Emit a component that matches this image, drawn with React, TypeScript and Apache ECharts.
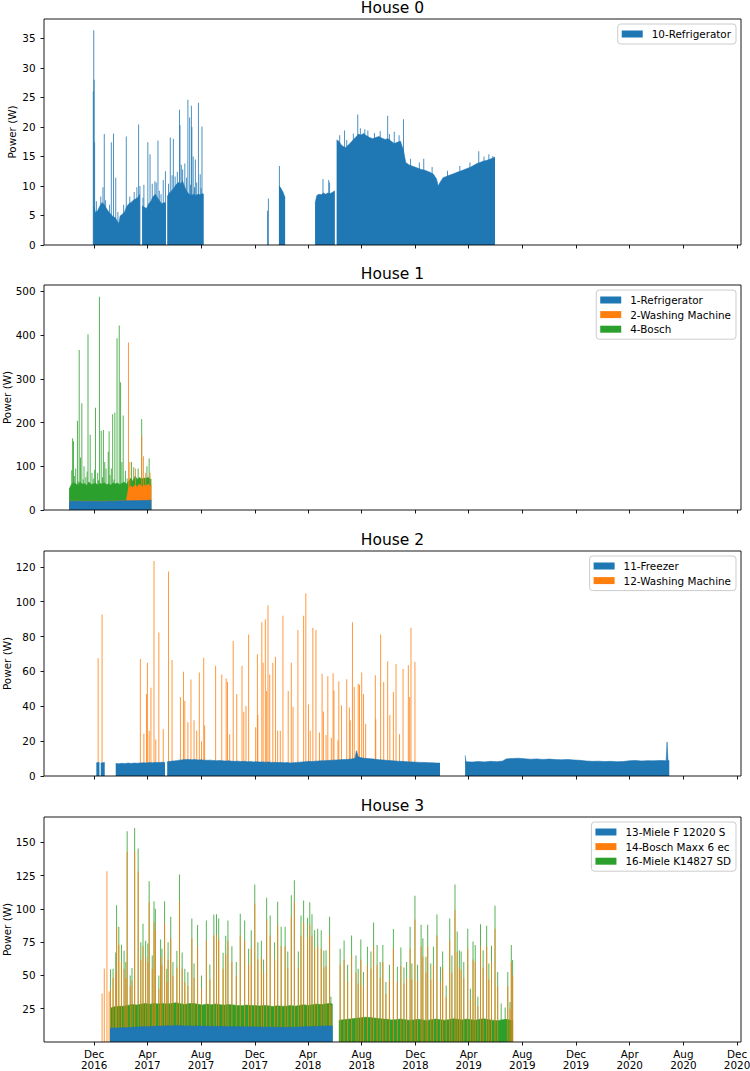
import React, { useEffect, useRef } from "react";
import * as echarts from "echarts";

type Pt = [string, number | null];

// ---------- shared x axis ----------
const xRange = ["2016-08-09", "2020-12-10"];
const xTickDates = [
  "2016-12-01", "2017-04-01", "2017-08-01", "2017-12-01", "2018-04-01", "2018-08-01", "2018-12-01",
  "2019-04-01", "2019-08-01", "2019-12-01", "2020-04-01", "2020-08-01", "2020-12-01",
];
const xTickLabels = [
  "Dec\n2016", "Apr\n2017", "Aug\n2017", "Dec\n2017", "Apr\n2018", "Aug\n2018", "Dec\n2018",
  "Apr\n2019", "Aug\n2019", "Dec\n2019", "Apr\n2020", "Aug\n2020", "Dec\n2020",
];
const houseTitles = ["House 0", "House 1", "House 2", "House 3"];

// ---------- House 0 ----------
const h0YTicks = [0, 5, 10, 15, 20, 25, 30, 35];
const h0YMax = 38.3;
const h0FridgeBase: Pt[] = [
  ["2016-11-30", 6.5], ["2016-12-04", 5.5], ["2016-12-09", 5.8], ["2016-12-14", 6.6], ["2016-12-19", 7.2],
  ["2016-12-24", 6.8], ["2016-12-29", 6.2], ["2017-01-03", 5.6], ["2017-01-08", 5.2], ["2017-01-13", 4.8],
  ["2017-01-18", 4.6], ["2017-01-23", 4.0], ["2017-01-26", 3.6], ["2017-01-29", 4.9], ["2017-02-03", 5.2],
  ["2017-02-08", 5.6], ["2017-02-13", 6.5], ["2017-02-18", 7.0], ["2017-02-23", 7.2], ["2017-02-28", 7.6],
  ["2017-03-05", 7.8], ["2017-03-10", 8.0], ["2017-03-15", 8.6], ["2017-03-17", null],
  ["2017-03-20", 6.6], ["2017-03-25", 6.4], ["2017-03-30", 6.2], ["2017-04-04", 7.0], ["2017-04-09", 7.4],
  ["2017-04-14", 8.2], ["2017-04-19", 8.6], ["2017-04-24", 8.0], ["2017-04-29", 7.4], ["2017-05-04", 7.0],
  ["2017-05-09", 7.2], ["2017-05-13", 7.0], ["2017-05-14", null],
  ["2017-05-16", 8.2], ["2017-05-21", 8.8], ["2017-05-26", 9.2], ["2017-05-31", 9.6], ["2017-06-05", 10.2],
  ["2017-06-10", 10.6], ["2017-06-15", 10.4], ["2017-06-20", 10.8], ["2017-06-25", 9.8], ["2017-06-30", 9.0],
  ["2017-07-05", 8.6], ["2017-07-10", 8.4], ["2017-07-15", 8.6], ["2017-07-20", 8.4], ["2017-07-25", 8.6],
  ["2017-07-30", 8.5], ["2017-08-04", 8.7], ["2017-08-07", 8.6], ["2017-08-08", null],
  ["2018-01-25", 10.0], ["2018-01-28", 9.8], ["2018-01-31", 9.4], ["2018-02-03", 9.0], ["2018-02-06", 8.4],
  ["2018-02-08", 8.0], ["2018-02-09", null],
  ["2018-04-17", 7.0], ["2018-04-21", 8.4], ["2018-04-26", 8.6], ["2018-05-01", 8.5], ["2018-05-06", 8.8],
  ["2018-05-11", 8.6], ["2018-05-16", 8.8], ["2018-05-21", 8.7], ["2018-05-26", 8.9], ["2018-06-01", 9.2],
  ["2018-06-03", null],
  ["2018-06-05", 17.8], ["2018-06-10", 17.6], ["2018-06-15", 17.0], ["2018-06-20", 16.7], ["2018-06-25", 16.5],
  ["2018-06-30", 16.8], ["2018-07-05", 17.2], ["2018-07-10", 17.6], ["2018-07-15", 18.0], ["2018-07-20", 18.4],
  ["2018-07-25", 18.8], ["2018-07-30", 18.6], ["2018-08-05", 18.9], ["2018-08-12", 18.5], ["2018-08-19", 18.2],
  ["2018-08-26", 18.0], ["2018-09-02", 18.2], ["2018-09-09", 18.4], ["2018-09-16", 18.1], ["2018-09-23", 17.9],
  ["2018-09-30", 18.0], ["2018-10-07", 17.6], ["2018-10-14", 17.2], ["2018-10-21", 17.4], ["2018-10-28", 17.6],
  ["2018-11-04", 16.0], ["2018-11-09", 14.0], ["2018-11-16", 13.6], ["2018-11-23", 13.4], ["2018-11-30", 13.2],
  ["2018-12-07", 13.0], ["2018-12-14", 12.8], ["2018-12-21", 12.7], ["2018-12-28", 12.5], ["2019-01-04", 12.3],
  ["2019-01-11", 12.0], ["2019-01-18", 11.2], ["2019-01-22", 10.0], ["2019-01-26", 10.6], ["2019-02-02", 11.4],
  ["2019-02-09", 11.6], ["2019-02-16", 11.8], ["2019-02-23", 12.0], ["2019-03-02", 12.2], ["2019-03-09", 12.4],
  ["2019-03-16", 12.6], ["2019-03-23", 12.8], ["2019-03-30", 13.0], ["2019-04-06", 13.2], ["2019-04-13", 13.5],
  ["2019-04-20", 13.8], ["2019-04-27", 14.0], ["2019-05-04", 14.2], ["2019-05-11", 14.3], ["2019-05-18", 14.5],
  ["2019-05-25", 14.7], ["2019-05-31", 14.9],
];
// peak heights on the axis
const h0FridgePeaks: [string, number][] = [
  ["2016-11-29", 26.0], ["2016-11-30", 36.4], ["2016-12-01", 28.0], ["2016-12-02", 17.4], ["2016-12-06", 7.4],
  ["2016-12-16", 8.2], ["2016-12-21", 9.8], ["2016-12-24", 18.8], ["2016-12-27", 7.6], ["2017-01-05", 6.8],
  ["2017-01-09", 17.4], ["2017-01-14", 18.9], ["2017-01-19", 11.4], ["2017-01-24", 5.6], ["2017-02-06", 6.8],
  ["2017-02-12", 18.4], ["2017-02-20", 8.2], ["2017-03-02", 9.0], ["2017-03-08", 9.8], ["2017-03-12", 20.4],
  ["2017-03-15", 10.0], ["2017-03-22", 8.0], ["2017-03-24", 10.2], ["2017-04-02", 17.4], ["2017-04-07", 15.4],
  ["2017-04-12", 10.4], ["2017-04-18", 10.8], ["2017-04-21", 10.6], ["2017-04-25", 17.7], ["2017-04-28", 9.2],
  ["2017-05-02", 8.6], ["2017-05-07", 11.0], ["2017-05-12", 12.5], ["2017-05-19", 10.4], ["2017-05-23", 18.2],
  ["2017-05-27", 11.8], ["2017-05-30", 18.0], ["2017-06-03", 11.6], ["2017-06-08", 12.4], ["2017-06-13", 22.9],
  ["2017-06-14", 20.3], ["2017-06-17", 13.6], ["2017-06-20", 12.8], ["2017-06-25", 13.8], ["2017-06-29", 11.4],
  ["2017-07-02", 24.6], ["2017-07-06", 21.6], ["2017-07-08", 10.2], ["2017-07-10", 23.6], ["2017-07-11", 20.0],
  ["2017-07-14", 15.0], ["2017-07-17", 9.8], ["2017-07-19", 14.5], ["2017-07-22", 10.6], ["2017-07-26", 24.1],
  ["2017-07-30", 12.0], ["2017-08-01", 9.6], ["2017-08-03", 20.1], ["2017-12-30", 5.8], ["2018-01-01", 7.9],
  ["2018-01-26", 13.4], ["2018-05-05", 11.2], ["2018-05-18", 11.0], ["2018-05-20", 10.6], ["2018-06-12", 18.6],
  ["2018-06-23", 19.4], ["2018-06-28", 17.8], ["2018-07-13", 18.9], ["2018-07-23", 22.1], ["2018-07-29", 19.8],
  ["2018-08-08", 19.6], ["2018-08-15", 19.4], ["2018-08-30", 19.0], ["2018-09-12", 19.3], ["2018-09-29", 21.9],
  ["2018-10-03", 18.8], ["2018-10-14", 19.2], ["2018-10-25", 18.6], ["2018-11-04", 21.3], ["2018-11-20", 14.6],
  ["2018-12-10", 14.0], ["2018-12-20", 14.6], ["2019-01-08", 13.2], ["2019-02-12", 12.6], ["2019-03-12", 13.4],
  ["2019-04-04", 14.0], ["2019-04-24", 15.9], ["2019-05-06", 15.0], ["2019-05-17", 15.4], ["2019-05-26", 15.1],
];

// ---------- House 1 ----------
const h1YTicks = [0, 100, 200, 300, 400, 500];
const h1YMax = 514.6;
const h1Dates = [
  "2016-10-05", "2016-10-10", "2016-10-15", "2016-10-20", "2016-10-25", "2016-10-30", "2016-11-04", "2016-11-09",
  "2016-11-14", "2016-11-19", "2016-11-24", "2016-11-29", "2016-12-04", "2016-12-09", "2016-12-14", "2016-12-19",
  "2016-12-24", "2016-12-29", "2017-01-03", "2017-01-08", "2017-01-13", "2017-01-18", "2017-01-23", "2017-01-28",
  "2017-02-02", "2017-02-07", "2017-02-12", "2017-02-17", "2017-02-22", "2017-02-27", "2017-03-04", "2017-03-09",
  "2017-03-14", "2017-03-19", "2017-03-24", "2017-03-29", "2017-04-03", "2017-04-08", "2017-04-10",
];
const h1FridgeBase = [
  19.5, 20.0, 20.5, 20.2, 19.8, 20.4, 20.0, 19.6, 20.1, 19.8, 20.3, 19.5, 19.9, 20.2, 19.7, 20.0, 19.6, 19.8, 20.3,
  20.6, 20.1, 20.4, 20.8, 21.0, 20.7, 21.2, 20.9, 21.4, 21.0, 21.3, 21.6, 21.2, 21.5, 21.8, 22.0, 21.7, 22.2, 22.5, 22.4,
];
const h1WasherBase = [
  0, 0, 0, 0, 0, 0, 0, 0, 0, 0, 0, 0, 0, 0, 0, 0, 0, 0, 0, 0, 0, 0, 0, 0, 0, 0, 0,
  28, 34, 30, 36, 32, 38, 30, 35, 33, 37, 31, 34,
];
const h1BoschBase = [
  28, 38, 42, 40, 37, 43, 39, 41, 36, 44, 38, 40, 42, 37, 41, 39, 43, 38, 40, 36, 42, 39, 41, 37, 40, 43, 38,
  16, 18, 14, 20, 17, 15, 19, 16, 18, 15, 17, 14,
];
const h1BoschPeaks: [string, number][] = [
  ["2016-10-11", 91], ["2016-10-13", 164], ["2016-10-15", 157], ["2016-10-17", 78], ["2016-10-20", 95],
  ["2016-10-24", 204], ["2016-10-26", 65], ["2016-10-28", 366], ["2016-10-31", 120], ["2016-11-03", 244],
  ["2016-11-06", 70], ["2016-11-08", 100], ["2016-11-12", 75], ["2016-11-15", 88], ["2016-11-17", 402],
  ["2016-11-22", 172], ["2016-11-26", 85], ["2016-11-29", 72], ["2016-12-02", 92], ["2016-12-04", 234],
  ["2016-12-09", 85], ["2016-12-11", 68], ["2016-12-13", 488], ["2016-12-17", 181], ["2016-12-20", 75],
  ["2016-12-22", 183], ["2016-12-25", 110], ["2016-12-28", 95], ["2017-01-02", 133], ["2017-01-04", 180],
  ["2017-01-06", 80], ["2017-01-09", 95], ["2017-01-12", 219], ["2017-01-15", 70], ["2017-01-17", 223],
  ["2017-01-22", 393], ["2017-01-27", 422], ["2017-01-30", 292], ["2017-02-02", 110], ["2017-02-05", 216],
  ["2017-02-10", 90], ["2017-02-14", 72], ["2017-02-24", 110], ["2017-03-01", 98], ["2017-03-11", 95],
  ["2017-03-19", 208], ["2017-03-31", 100], ["2017-04-05", 118],
];
const h1WasherPeaks: [string, number][] = [
  ["2017-02-17", 383], ["2017-02-20", 110], ["2017-03-05", 95], ["2017-03-19", 170], ["2017-03-23", 123],
  ["2017-03-28", 85], ["2017-04-07", 86],
];

// ---------- House 2 ----------
const h2YTicks = [0, 20, 40, 60, 80, 100, 120];
const h2YMax = 129.1;
const h2FreezerBase: Pt[] = [
  ["2016-12-06", 7.6], ["2016-12-13", 7.8], ["2016-12-14", null], ["2016-12-16", 7.4], ["2016-12-25", 7.8],
  ["2016-12-26", null],
  ["2017-01-19", 7.2], ["2017-01-26", 7.0], ["2017-02-02", 7.3], ["2017-02-09", 7.1], ["2017-02-16", 7.4],
  ["2017-02-23", 7.2], ["2017-03-02", 7.4], ["2017-03-09", 7.3], ["2017-03-16", 7.5], ["2017-03-23", 7.6],
  ["2017-03-30", 7.5], ["2017-04-06", 7.7], ["2017-04-13", 7.6], ["2017-04-20", 7.8], ["2017-04-27", 7.7],
  ["2017-05-04", 7.9], ["2017-05-11", 7.8], ["2017-05-14", null],
  ["2017-05-16", 8.2], ["2017-05-23", 8.4], ["2017-05-30", 8.6], ["2017-06-06", 8.8], ["2017-06-13", 9.1],
  ["2017-06-20", 9.3], ["2017-06-27", 9.4], ["2017-07-04", 9.5], ["2017-07-11", 9.3], ["2017-07-18", 9.4],
  ["2017-07-25", 9.2], ["2017-08-01", 9.3], ["2017-08-08", 9.1], ["2017-08-15", 9.0], ["2017-08-22", 9.1],
  ["2017-08-29", 8.9], ["2017-09-05", 8.8], ["2017-09-12", 8.9], ["2017-09-19", 8.7], ["2017-09-26", 8.6],
  ["2017-10-03", 8.7], ["2017-10-10", 8.5], ["2017-10-17", 8.4], ["2017-10-24", 8.5], ["2017-10-31", 8.3],
  ["2017-11-07", 8.4], ["2017-11-14", 8.2], ["2017-11-21", 8.3], ["2017-11-28", 8.1], ["2017-12-05", 8.2],
  ["2017-12-12", 8.0], ["2017-12-19", 8.1], ["2017-12-26", 7.9], ["2018-01-02", 8.0], ["2018-01-09", 7.8],
  ["2018-01-16", 7.9], ["2018-01-23", 7.7], ["2018-01-30", 7.8], ["2018-02-06", 7.6], ["2018-02-13", 7.7],
  ["2018-02-20", 7.5], ["2018-02-27", 7.6], ["2018-03-06", 7.8], ["2018-03-13", 7.9], ["2018-03-20", 8.1],
  ["2018-03-27", 8.2], ["2018-04-03", 8.4], ["2018-04-10", 8.3], ["2018-04-17", 8.5], ["2018-04-24", 8.6],
  ["2018-05-01", 8.7], ["2018-05-08", 8.8], ["2018-05-15", 8.9], ["2018-05-22", 9.0], ["2018-05-29", 9.1],
  ["2018-06-05", 9.2], ["2018-06-12", 9.3], ["2018-06-19", 9.4], ["2018-06-26", 9.5], ["2018-07-03", 9.6],
  ["2018-07-10", 9.8], ["2018-07-17", 10.2], ["2018-07-20", 14.5], ["2018-07-24", 11.0], ["2018-07-31", 10.4],
  ["2018-08-07", 10.2], ["2018-08-14", 10.0], ["2018-08-21", 9.9], ["2018-08-28", 9.7], ["2018-09-04", 9.5],
  ["2018-09-11", 9.3], ["2018-09-18", 9.2], ["2018-09-25", 9.0], ["2018-10-02", 8.9], ["2018-10-09", 8.8],
  ["2018-10-16", 8.6], ["2018-10-23", 8.5], ["2018-10-30", 8.4], ["2018-11-06", 8.3], ["2018-11-13", 8.2],
  ["2018-11-20", 8.1], ["2018-11-27", 8.0], ["2018-12-04", 7.9], ["2018-12-11", 7.8], ["2018-12-18", 7.8],
  ["2018-12-25", 7.7], ["2019-01-01", 7.6], ["2019-01-08", 7.6], ["2019-01-15", 7.5], ["2019-01-22", 7.4],
  ["2019-01-26", 7.4], ["2019-01-27", null],
  ["2019-03-24", 11.8], ["2019-03-26", 8.2], ["2019-04-09", 8.0], ["2019-04-23", 8.3], ["2019-05-07", 8.1],
  ["2019-05-21", 8.4], ["2019-06-04", 8.2], ["2019-06-18", 8.6], ["2019-06-25", 9.8], ["2019-07-09", 10.0],
  ["2019-07-23", 10.2], ["2019-08-06", 9.9], ["2019-08-20", 9.6], ["2019-09-03", 9.8], ["2019-09-17", 9.5],
  ["2019-10-01", 9.7], ["2019-10-15", 9.4], ["2019-10-29", 9.3], ["2019-11-12", 9.5], ["2019-11-26", 9.2],
  ["2019-12-10", 9.0], ["2019-12-24", 8.6], ["2020-01-07", 8.4], ["2020-01-21", 8.5], ["2020-02-04", 8.3],
  ["2020-02-18", 8.4], ["2020-03-03", 8.2], ["2020-03-17", 8.3], ["2020-03-31", 8.7], ["2020-04-14", 8.9],
  ["2020-04-28", 8.6], ["2020-05-12", 8.8], ["2020-05-26", 8.7], ["2020-06-09", 8.9], ["2020-06-23", 8.8],
  ["2020-06-25", 19.5], ["2020-06-27", 9.0], ["2020-06-30", 8.8],
];
const h2WasherPeaks: [string, number][] = [
  ["2016-12-10", 67.5], ["2016-12-19", 92.7], ["2017-03-16", 67.2], ["2017-03-24", 24.3], ["2017-03-30", 47],
  ["2017-04-01", 65], ["2017-04-05", 26], ["2017-04-09", 50.6], ["2017-04-16", 123.4], ["2017-04-20", 21],
  ["2017-04-27", 82.4], ["2017-05-07", 27], ["2017-05-19", 117.3], ["2017-05-27", 66.5], ["2017-06-15", 45.4],
  ["2017-06-22", 59.8], ["2017-06-25", 43], ["2017-07-02", 30.8], ["2017-07-09", 55.4], ["2017-07-16", 32],
  ["2017-07-22", 26], ["2017-07-28", 59.4], ["2017-08-02", 20], ["2017-08-07", 67.8], ["2017-08-09", 29],
  ["2017-09-03", 63.2], ["2017-09-17", 58.3], ["2017-09-27", 56], ["2017-09-30", 54], ["2017-10-05", 24],
  ["2017-10-13", 77.4], ["2017-10-21", 47], ["2017-11-02", 63.2], ["2017-11-06", 36.8], ["2017-11-11", 40.2],
  ["2017-11-17", 81.2], ["2017-12-03", 28], ["2017-12-07", 69.8], ["2017-12-08", 35], ["2017-12-17", 88.2],
  ["2017-12-20", 65], ["2017-12-25", 90], ["2017-12-28", 48.7], ["2017-12-31", 98], ["2018-01-04", 58.3],
  ["2018-01-11", 65], ["2018-01-17", 68.4], ["2018-01-22", 26], ["2018-01-28", 26], ["2018-02-03", 92],
  ["2018-02-15", 48.7], ["2018-02-22", 65], ["2018-02-26", 39.7], ["2018-03-09", 83.7], ["2018-03-22", 92],
  ["2018-03-27", 104.8], ["2018-04-02", 41], ["2018-04-06", 26], ["2018-04-12", 85], ["2018-04-19", 83.7],
  ["2018-04-27", 25], ["2018-05-03", 58.7], ["2018-05-06", 37], ["2018-05-12", 23.5], ["2018-05-16", 57.2],
  ["2018-05-24", 22], ["2018-05-28", 59], ["2018-05-30", 49], ["2018-06-08", 20.5], ["2018-06-10", 54.4],
  ["2018-06-16", 40.6], ["2018-06-28", 55.5], ["2018-07-04", 39.3], ["2018-07-06", 32], ["2018-07-11", 88.2],
  ["2018-07-15", 51], ["2018-07-24", 53], ["2018-07-27", 52.4], ["2018-08-01", 59.4], ["2018-08-05", 47],
  ["2018-08-10", 30], ["2018-09-01", 57.8], ["2018-09-02", 32.6], ["2018-09-13", 81.2], ["2018-09-20", 54],
  ["2018-09-29", 65.9], ["2018-10-04", 35], ["2018-10-12", 48.2], ["2018-10-18", 64.2], ["2018-10-26", 24],
  ["2018-11-03", 61.4], ["2018-11-15", 63.6], ["2018-11-18", 45.4], ["2018-11-21", 85], ["2018-11-30", 65.5],
];

// ---------- House 3 ----------
const h3YTicks = [25, 50, 75, 100, 125, 150];
const h3YMax = 169;
const h3Dates = [
  "2017-01-06", "2017-01-16", "2017-01-26", "2017-02-05", "2017-02-15", "2017-02-25", "2017-03-07", "2017-03-17",
  "2017-03-27", "2017-04-06", "2017-04-16", "2017-04-26", "2017-05-06", "2017-05-16", "2017-05-26", "2017-06-05",
  "2017-06-15", "2017-06-25", "2017-07-05", "2017-07-15", "2017-07-25", "2017-08-04", "2017-08-14", "2017-08-24",
  "2017-09-03", "2017-09-13", "2017-09-23", "2017-10-03", "2017-10-13", "2017-10-23", "2017-11-02", "2017-11-12",
  "2017-11-22", "2017-12-02", "2017-12-12", "2017-12-22", "2018-01-01", "2018-01-11", "2018-01-21", "2018-01-31",
  "2018-02-10", "2018-02-20", "2018-03-02", "2018-03-12", "2018-03-22", "2018-04-01", "2018-04-11", "2018-04-21",
  "2018-05-01", "2018-05-11", "2018-05-21", "2018-05-27", "2018-05-29",
  "2018-06-10", "2018-06-20", "2018-06-30", "2018-07-10", "2018-07-20", "2018-07-30", "2018-08-09", "2018-08-19",
  "2018-08-29", "2018-09-08", "2018-09-18", "2018-09-28", "2018-10-08", "2018-10-18", "2018-10-28", "2018-11-07",
  "2018-11-17", "2018-11-27", "2018-12-07", "2018-12-17", "2018-12-27", "2019-01-06", "2019-01-16", "2019-01-26",
  "2019-02-05", "2019-02-15", "2019-02-25", "2019-03-07", "2019-03-17", "2019-03-27", "2019-04-06", "2019-04-16",
  "2019-04-26", "2019-05-06", "2019-05-16", "2019-05-26", "2019-06-05", "2019-06-15", "2019-06-25", "2019-07-05",
  "2019-07-11",
];
// the freezer (13) only reports in the first period
const h3MieleFBase = [
  10.4, 10.6, 10.5, 10.8, 10.7, 11.0, 11.2, 11.4, 11.6, 11.5, 11.8, 12.0, 11.9, 12.2, 12.1, 12.3, 12.2, 12.0,
  12.1, 11.9, 12.0, 11.8, 11.9, 11.7, 11.8, 11.6, 11.7, 11.5, 11.6, 11.4, 11.5, 11.3, 11.4, 11.2, 11.3, 11.1,
  11.2, 11.0, 11.1, 11.0, 10.9, 11.0, 11.1, 11.2, 11.4, 11.5, 11.6, 11.7, 11.9, 12.0, 12.1, 12.0,
];
const h3MieleKBase: (number | null)[] = [
  15.0, 15.8, 16.4, 16.0, 16.8, 17.2, 16.6, 17.0, 17.4, 16.8, 17.2, 16.6, 17.0, 16.4, 16.8, 17.2, 16.6, 16.2,
  16.8, 17.0, 16.4, 16.0, 16.6, 16.2, 16.8, 16.4, 16.0, 16.6, 16.2, 16.0, 15.8, 16.4, 16.0, 16.2, 15.8, 16.4,
  16.0, 15.6, 16.2, 15.8, 16.0, 16.4, 15.8, 16.2, 16.6, 16.0, 16.4, 16.8, 16.2, 16.6, 17.0, 16.4,
  null,
  16.2, 16.8, 17.0, 17.4, 17.8, 18.2, 18.6, 18.4, 18.0, 17.6, 17.2, 17.0, 16.6, 16.8, 17.2, 16.8, 16.4, 16.6,
  17.0, 16.6, 16.2, 16.8, 17.2, 16.8, 16.4, 16.8, 17.4, 17.0, 16.6, 17.2, 16.8, 16.4, 17.0, 17.4, 16.8, 16.4,
  16.0, 16.6, 17.0, 16.4, 16.0,
];
const h3PeakDates = [
  "2016-12-19", "2016-12-24", "2016-12-30", "2017-01-04", "2017-01-07", "2017-01-13", "2017-01-19", "2017-01-21",
  "2017-01-26", "2017-02-01", "2017-02-07", "2017-02-11", "2017-02-14", "2017-02-21", "2017-02-25", "2017-03-03",
  "2017-03-11", "2017-03-17", "2017-03-22", "2017-03-28", "2017-04-02", "2017-04-05", "2017-04-12", "2017-04-16",
  "2017-04-19", "2017-04-27", "2017-05-01", "2017-05-04", "2017-05-10", "2017-05-15", "2017-05-18", "2017-05-24",
  "2017-05-29", "2017-06-07", "2017-06-13", "2017-06-19", "2017-06-25", "2017-07-02", "2017-07-11", "2017-07-16",
  "2017-07-24", "2017-08-02", "2017-08-13", "2017-08-21", "2017-08-30", "2017-09-05", "2017-09-10", "2017-09-20",
  "2017-09-26", "2017-10-01", "2017-10-10", "2017-10-20", "2017-10-29", "2017-11-08", "2017-11-17", "2017-11-23",
  "2017-12-01", "2017-12-08", "2017-12-16", "2017-12-21", "2017-12-28", "2018-01-05", "2018-01-15", "2018-01-22",
  "2018-01-30", "2018-02-08", "2018-02-14", "2018-02-22", "2018-03-01", "2018-03-10", "2018-03-16", "2018-03-22",
  "2018-03-31", "2018-04-05", "2018-04-10", "2018-04-16", "2018-04-23", "2018-05-01", "2018-05-07", "2018-05-12",
  "2018-05-20", "2018-05-23", "2018-06-13", "2018-06-22", "2018-06-30", "2018-07-09", "2018-07-19", "2018-07-24",
  "2018-07-30", "2018-08-05", "2018-08-14", "2018-08-22", "2018-08-28", "2018-09-05", "2018-09-12", "2018-09-18",
  "2018-09-25", "2018-10-03", "2018-10-12", "2018-10-21", "2018-10-29", "2018-11-05", "2018-11-11", "2018-11-19",
  "2018-11-23", "2018-11-30", "2018-12-06", "2018-12-14", "2018-12-18", "2018-12-25", "2018-12-29", "2019-01-05",
  "2019-01-11", "2019-01-19", "2019-01-27", "2019-02-01", "2019-02-09", "2019-02-17", "2019-02-22", "2019-03-01",
  "2019-03-06", "2019-03-11", "2019-03-15", "2019-03-21", "2019-03-30", "2019-04-05", "2019-04-11", "2019-04-16",
  "2019-04-22", "2019-04-28", "2019-05-04", "2019-05-12", "2019-05-17", "2019-05-23", "2019-05-31", "2019-06-06",
  "2019-06-14", "2019-06-23", "2019-06-29", "2019-07-04", "2019-07-07", "2019-07-10",
];
const h3BoschPeakTops: (number | null)[] = [
  36.5, 55.2, 128.3, 38, 40, 48, 52, 86, 73, 60, 55, 48, 142.8, 42, 46, 143.5, 128, 62, 72, 64, 60, 105, 55, 90,
  84, 40, 64, 58, 89, 45, 62, 78, 50, 56, 105.8, 55, 45, 42, 78, 48, 72, 40, 76, 47, 80, 81, 77, 55, 66, 76, 60,
  50, 80, 76, 58, 70, 104, 62, 63, 52, 92, 80, 62, 88, 72, 72, 56, 94, 105, 56, 80, 90, 78, 88, 80, 70, 72, 70,
  56, 57, 80, 28, 58, 62, 45, 65, 52, 44, 62, 42, 58, 55, 72, 58, 48, 60, 36, 46, 70, 45, 57, 44, 48, 70, 47, 92,
  46, 72, 64, 52, 72, 47, 58, 80, 45, 55, 34, 76, 52, 99, 68, 56, 54, 48, 70, 32, 62, 60, 27, 72, 56, 72, 47, 60,
  85, 42, null, null, 42, 25, 60, 50,
];
const h3MieleKPeakTops: (number | null)[] = [
  null, null, null, null, 54.7, 55, 67.3, 102.8, 86.5, 73, 68.5, 60, 158.3, 50, 55.5, 160.8, 145.3, 75, 88.8, 76,
  74, 120.8, 65, 105.8, 100, 50, 77, 70, 105.8, 55, 75, 94, 60, 68.5, 125.8, 67.3, 55, 52.5, 92.8, 59, 87.8, 50,
  91.3, 58.2, 95.8, 96, 92.8, 67, 79.8, 91.3, 72, 60, 96.3, 91.3, 70, 84, 118.3, 75, 76, 62, 108.3, 95, 75, 105.3,
  86.5, 86.5, 68, 110.3, 121.5, 68, 95, 106.3, 93.3, 105, 96, 84, 85, 84, 68.5, 69, 94, 34, 70, 76.3, 58, 80, 65,
  55, 77, 52.5, 71.5, 68, 89.8, 72.8, 60, 72.8, 45, 58, 84.8, 56.6, 71, 56, 60, 86.5, 59, 109.8, 58, 88, 78, 64,
  88, 59, 71.5, 95.8, 56.6, 68, 42.5, 92.7, 65, 118.3, 83, 69, 68, 60, 85, 40, 75.5, 72.8, 34, 88.5, 69, 87.3, 59,
  72.3, 102.3, 52.5, 29, 26, 52.5, 30, 72.8, 61.5,
];

// ---------- rendering ----------
const FONT = "DejaVu Sans";
const BLUE = "#1f77b4";
const ORANGE = "#ff7f0e";
const GREEN = "#2ca02c";

const ts = (s: string) => {
  const [y, m, d] = s.split("-").map(Number);
  return new Date(y, m - 1, d).getTime();
};
const toPts = (list: [string, number | null][]) => list.map(([d, v]) => [ts(d), v]);
const zipPts = (dates: string[], vals: (number | null)[]) =>
  dates.map((d, i) => [ts(d), vals[i]] as [number, number | null]).filter((p) => p[1] != null);
const cumulative = (dates: string[], layers: (number | null)[][]) =>
  layers.map((layer, k) =>
    dates.map((d, i) => {
      const own = layer[i];
      if (own === null || own === undefined) return [ts(d), null];
      let s = 0;
      for (let j = 0; j <= k; j++) s += layers[j][i] ?? 0;
      return [ts(d), Math.round(s * 100) / 100];
    })
  );

const area = (name: string, color: string, data: any[], gi: number, z: number) => ({
  type: "line", name, xAxisIndex: gi, yAxisIndex: gi, data, z,
  symbol: "none", showSymbol: false, connectNulls: false, silent: true,
  lineStyle: { color, width: 0.6 }, itemStyle: { color }, areaStyle: { color, opacity: 1 },
  emphasis: { disabled: true },
});
// thin vertical peaks, drawn through the axes' own coordinate mapping
const peaks = (name: string, color: string, data: any[], gi: number, z: number) => ({
  type: "custom", name, xAxisIndex: gi, yAxisIndex: gi, data, z, silent: true,
  encode: { x: 0, y: 1 },
  itemStyle: { color },
  renderItem: (_p: any, api: any) => {
    const x = api.value(0);
    const top = api.coord([x, api.value(1)]);
    const base = api.coord([x, 0]);
    return {
      type: "rect",
      shape: { x: top[0] - 0.5, y: top[1], width: 1, height: base[1] - top[1] },
      style: { fill: color, opacity: 0.8 },
    };
  },
});

function buildOption() {
  const grids = [
    { top: 19, height: 226 },
    { top: 285, height: 225 },
    { top: 551, height: 225 },
    { top: 817, height: 225 },
  ];
  const yTicks = [h0YTicks, h1YTicks, h2YTicks, h3YTicks];
  const yMax = [h0YMax, h1YMax, h2YMax, h3YMax];
  const nameGaps = [27, 32, 32, 32];
  const titleTops = [0, 266, 532, 798];
  const xTicks = xTickDates.map(ts);

  const [h1Blue, h1Orange, h1Green] = cumulative(h1Dates, [h1FridgeBase, h1WasherBase, h1BoschBase]);
  const [h3Blue, h3Green] = cumulative(h3Dates, [h3MieleFBase, h3MieleKBase]);

  const legends = [
    [["10-Refrigerator", BLUE]],
    [["1-Refrigerator", BLUE], ["2-Washing Machine", ORANGE], ["4-Bosch", GREEN]],
    [["11-Freezer", BLUE], ["12-Washing Machine", ORANGE]],
    [["13-Miele F 12020 S", BLUE], ["14-Bosch Maxx 6 ec", ORANGE], ["16-Miele K14827 SD", GREEN]],
  ];

  const series = [
    peaks("10-Refrigerator", BLUE, toPts(h0FridgePeaks), 0, 3),
    area("10-Refrigerator", BLUE, toPts(h0FridgeBase), 0, 4),

    peaks("4-Bosch", GREEN, toPts(h1BoschPeaks), 1, 2),
    area("4-Bosch", GREEN, h1Green, 1, 3),
    peaks("2-Washing Machine", ORANGE, toPts(h1WasherPeaks), 1, 4),
    area("2-Washing Machine", ORANGE, h1Orange, 1, 5),
    area("1-Refrigerator", BLUE, h1Blue, 1, 6),

    peaks("12-Washing Machine", ORANGE, toPts(h2WasherPeaks), 2, 3),
    area("11-Freezer", BLUE, toPts(h2FreezerBase), 2, 4),

    peaks("16-Miele K14827 SD", GREEN, zipPts(h3PeakDates, h3MieleKPeakTops), 3, 2),
    area("16-Miele K14827 SD", GREEN, h3Green, 3, 3),
    peaks("14-Bosch Maxx 6 ec", ORANGE, zipPts(h3PeakDates, h3BoschPeakTops), 3, 4),
    area("13-Miele F 12020 S", BLUE, h3Blue, 3, 5),
  ];

  const txt = { fontFamily: FONT, fontSize: 10.4, color: "#000" };

  return {
    animation: false,
    backgroundColor: "#ffffff",
    title: houseTitles.map((t, i) => ({
      text: t, left: 392.5, top: titleTops[i], textAlign: "center", padding: 0,
      textStyle: { fontFamily: FONT, fontSize: 15.5, fontWeight: "normal", color: "#000" },
    })),
    grid: grids.map((g) => ({
      left: 44, right: 9, top: g.top, height: g.height, show: true, z: 10,
      containLabel: false, outerBoundsMode: "none",
      backgroundColor: "transparent", borderColor: "#000", borderWidth: 0.9,
    })),
    legend: legends.map((items, i) => ({
      data: items.map(([n, c]) => ({ name: n, icon: "rect", itemStyle: { color: c, borderWidth: 0, opacity: 1 } })),
      orient: "vertical", align: "left", right: 14, top: grids[i].top + 5,
      itemWidth: 21, itemHeight: 7, itemGap: 2.6, padding: [4, 5, 4, 4],
      borderColor: "#cccccc", borderWidth: 1, borderRadius: 3, backgroundColor: "rgba(255,255,255,0.8)",
      textStyle: { ...txt, lineHeight: 12, padding: [0, 0, 0, 4] },
      selectedMode: false, z: 20,
    })),
    xAxis: grids.map((_, i) => ({
      type: "value", gridIndex: i, min: ts(xRange[0]), max: ts(xRange[1]),
      axisLine: { show: false }, splitLine: { show: false },
      axisTick: { show: true, length: 3.5, lineStyle: { color: "#000", width: 0.9 }, customValues: xTicks },
      axisLabel: {
        show: i === 3, customValues: xTicks, margin: 6.5, ...txt, lineHeight: 11,
        formatter: (v: number) => {
          let best = 0;
          xTicks.forEach((t, k) => { if (Math.abs(t - v) < Math.abs(xTicks[best] - v)) best = k; });
          return xTickLabels[best];
        },
      },
    })),
    yAxis: grids.map((_, i) => ({
      type: "value", gridIndex: i, min: 0, max: yMax[i],
      name: "Power (W)", nameLocation: "middle", nameGap: nameGaps[i], nameRotate: 90,
      nameMoveOverlap: false,
      nameTextStyle: { ...txt },
      axisLine: { show: false }, splitLine: { show: false },
      axisTick: { show: true, length: 3.5, lineStyle: { color: "#000", width: 0.9 }, customValues: yTicks[i] },
      axisLabel: { customValues: yTicks[i], margin: 8.5, ...txt },
    })),
    series,
  };
}

export default function App() {
  const ref = useRef<HTMLDivElement>(null);
  useEffect(() => {
    if (!ref.current) return;
    const chart = echarts.init(ref.current, null, { renderer: "svg" });
    chart.setOption(buildOption() as any);
    return () => chart.dispose();
  }, []);
  return (
    <div
      ref={ref}
      style={{ position: "absolute", left: 0, top: 0, width: 750, height: 1071, background: "#fff" }}
    />
  );
}
